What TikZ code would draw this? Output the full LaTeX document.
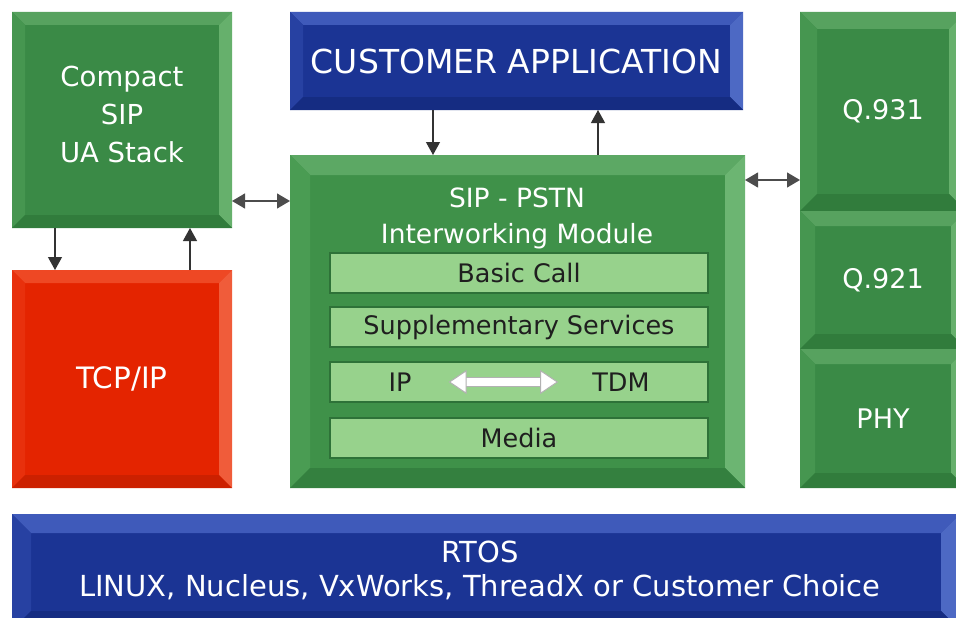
\documentclass[tikz,border=0pt]{standalone}
\usepackage{fontspec}
\setmainfont{DejaVu Sans}
\usetikzlibrary{arrows.meta}

\definecolor{grnface}{HTML}{3A8A46}
\definecolor{grntop}{HTML}{57A25F}
\definecolor{grnleft}{HTML}{469650}
\definecolor{grnright}{HTML}{66B06C}
\definecolor{grnbot}{HTML}{317C3C}
\definecolor{modface}{HTML}{3F9149}
\definecolor{modtop}{HTML}{5CA864}
\definecolor{modleft}{HTML}{4A9C53}
\definecolor{modright}{HTML}{6CB572}
\definecolor{modbot}{HTML}{34803F}
\definecolor{redface}{HTML}{E42400}
\definecolor{redtop}{HTML}{EE4824}
\definecolor{redleft}{HTML}{E8300C}
\definecolor{redright}{HTML}{F05C3A}
\definecolor{redbot}{HTML}{CC2000}
\definecolor{bluface}{HTML}{1B3494}
\definecolor{blutop}{HTML}{3F5ABA}
\definecolor{bluleft}{HTML}{2741A2}
\definecolor{bluright}{HTML}{4D69C4}
\definecolor{blubot}{HTML}{152C82}
\definecolor{barfill}{HTML}{97D28C}
\definecolor{barline}{HTML}{2E7238}

\begin{document}
\begin{tikzpicture}[x=1pt, y=-1pt,
	box/.style={rectangle, inner sep=0pt, outer sep=0pt, text=white, align=center},
	bevel/.style 2 args={fill=#2face, path picture={
		\coordinate (pnw) at (path picture bounding box.north west);
		\coordinate (pne) at (path picture bounding box.north east);
		\coordinate (pse) at (path picture bounding box.south east);
		\coordinate (psw) at (path picture bounding box.south west);
		\fill[#2top] (pnw) -- (pne) -- ([xshift=-#1pt,yshift=-#1pt]pne) -- ([xshift=#1pt,yshift=-#1pt]pnw) -- cycle;
		\fill[#2right] (pne) -- (pse) -- ([xshift=-#1pt,yshift=#1pt]pse) -- ([xshift=-#1pt,yshift=-#1pt]pne) -- cycle;
		\fill[#2left] (pnw) -- (psw) -- ([xshift=#1pt,yshift=#1pt]psw) -- ([xshift=#1pt,yshift=-#1pt]pnw) -- cycle;
		\fill[#2bot] (psw) -- (pse) -- ([xshift=-#1pt,yshift=#1pt]pse) -- ([xshift=#1pt,yshift=#1pt]psw) -- cycle;
	}},
	txt/.style={inner sep=0pt, text=white, align=center},
	bar/.style={rectangle, inner sep=0pt, fill=barfill, draw=barline, line width=1.5pt,
		minimum width=378pt, minimum height=40pt, text=black!88, font=\fontsize{25.5pt}{30pt}\selectfont},
	bartxt/.style={inner sep=0pt, text=black!88, font=\fontsize{25.5pt}{30pt}\selectfont},
	arr/.style={draw=black!80, line width=1.2pt, -{Triangle[length=13pt,width=14pt]}},
	dblarr/.style={draw=black!70, line width=1.2pt, {Triangle[length=13pt,width=15pt]}-{Triangle[length=13pt,width=15pt]}},
	whitearr/.style={draw=black!30, line width=1pt, double=white, double distance=8pt,
		{Triangle[length=18pt,width=24pt,fill=white]}-{Triangle[length=18pt,width=24pt,fill=white]}}
	]
	%%%%% frame %%%%%
	\useasboundingbox (0,0) rectangle (956,618);
	\clip (0,0) rectangle (956,618);
	
	%%%%% left column %%%%%
	\node[box, bevel={13}{grn}, minimum width=220pt, minimum height=216pt] (compact) at (122,120) {};
	\node[txt, anchor=north, font=\fontsize{27.5pt}{38pt}\selectfont] (compacttxt) at (122,66) {Compact\\SIP\\UA Stack};
	\node[box, bevel={13}{red}, minimum width=220pt, minimum height=218pt, font=\fontsize{29.5pt}{34pt}\selectfont] (tcp) at (122,379) {TCP/IP};
	
	%%%%% middle %%%%%
	\node[box, bevel={13}{blu}, minimum width=453pt, minimum height=98pt, font=\fontsize{33pt}{38pt}\selectfont] (customer) at (516.5,61) {CUSTOMER APPLICATION};
	\node[box, bevel={20}{mod}, minimum width=455pt, minimum height=333pt] (module) at (517.5,321.5) {};
	\node[txt, anchor=north, font=\fontsize{26.5pt}{36pt}\selectfont] (moduletxt) at (517,188) {SIP - PSTN\\Interworking Module};
	
	\node[bar] (basic) at (519,273) {Basic Call};
	\node[bar] (supp) at (519,327) {Supplementary Services};
	\node[bar] (iptdm) at (519,382) {};
	\node[bar] (media) at (519,438) {Media};
	\node[bartxt] (ip) at (400,382) {IP};
	\node[bartxt] (tdm) at (621,382) {TDM};
	
	%%%%% right column %%%%%
	\node[box, bevel={17}{grn}, minimum width=166pt, minimum height=199pt, font=\fontsize{27pt}{32pt}\selectfont] (q931) at (883,111.5) {Q.931};
	\node[box, bevel={15}{grn}, minimum width=166pt, minimum height=138pt, font=\fontsize{27pt}{32pt}\selectfont] (q921) at (883,280) {Q.921};
	\node[box, bevel={15}{grn}, minimum width=166pt, minimum height=139pt, font=\fontsize{27pt}{32pt}\selectfont] (phy) at (883,418.5) {PHY};
	
	%%%%% bottom %%%%%
	\node[box, bevel={19}{blu}, minimum width=948pt, minimum height=116pt] (rtos) at (486,572) {};
	\node[txt, anchor=north, font=\fontsize{29pt}{34pt}\selectfont] (rtostxt) at (480,541) {RTOS\\LINUX, Nucleus, VxWorks, ThreadX or Customer Choice};
	
	%%%%% arrows %%%%%
	\draw[arr] ([xshift=43pt]compact.south west) -- ([xshift=43pt]tcp.north west);
	\draw[arr] ([xshift=178pt]tcp.north west) -- ([xshift=178pt]compact.south west);
	\draw[arr] ([xshift=143pt]customer.south west) -- ([xshift=143pt]module.north west);
	\draw[arr] ([xshift=308pt]module.north west) -- ([xshift=308pt]customer.south west);
	\draw[dblarr] ([yshift=-81pt]compact.east) -- ([yshift=-81pt]compact.east -| module.west);
	\draw[dblarr] ([yshift=141.5pt]module.east) -- ([yshift=141.5pt]module.east -| q931.west);
	\draw[whitearr, shorten <=37pt, shorten >=34pt] (ip) -- (tdm);
\end{tikzpicture}
\end{document}
